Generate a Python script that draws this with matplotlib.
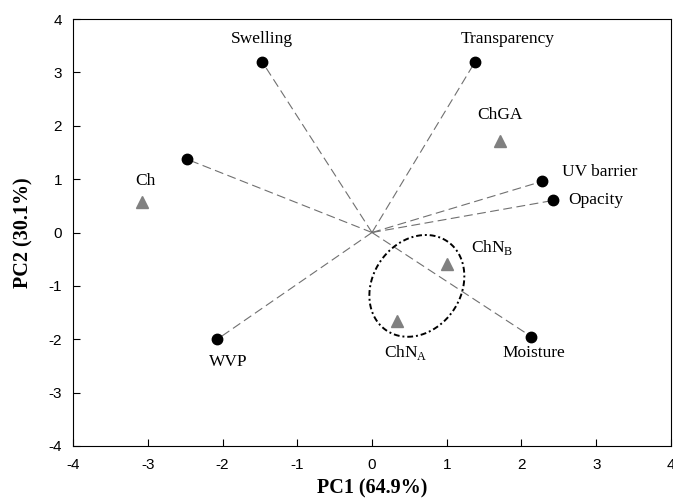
import numpy as np
import matplotlib
matplotlib.use("Agg")
import matplotlib.pyplot as plt

plt.rcParams["mathtext.fontset"] = "custom"
plt.rcParams["mathtext.rm"] = "Liberation Serif"
plt.rcParams["axes.unicode_minus"] = False

# loadings (black circles, dashed lines from origin)
load_names = ["Swelling", "Transparency", "", "UV barrier", "Opacity", "Moisture", "WVP"]
load_x = [-1.47, 1.38, -2.47, 2.28, 2.42, 2.13, -2.07]
load_y = [3.20, 3.20, 1.37, 0.96, 0.60, -1.95, -2.00]

# scores (grey triangles)
score_names = ["Ch", "ChGA", r"ChN$_{\mathrm{B}}$", r"ChN$_{\mathrm{A}}$"]
score_x = [-3.08, 1.71, 1.00, 0.34]
score_y = [0.57, 1.72, -0.59, -1.65]

# label offsets in pixels
load_off = [(0, 23), (33, 23), (0, 0), (20, 9), (15, 0), (3, -16), (11, -23)]
load_ha = ["center", "center", "center", "left", "left", "center", "center"]
score_off = [(4, 21), (0, 26), (24, 17), (8, -32)]
score_ha = ["center", "center", "left", "center"]

fig = plt.figure(figsize=(6.73, 5.01), dpi=100)
ax = fig.add_axes([0.1085, 0.1098, 0.8885, 0.8522])

for x, y in zip(load_x, load_y):
    ax.plot([0, x], [0, y], color="#707070", lw=0.8, ls=(0, (8, 4)), zorder=1)
ax.plot(load_x, load_y, "o", color="black", ms=7.5, zorder=3)
ax.plot(score_x, score_y, "^", color="#808080", ms=8, zorder=3)

for n, x, y, off, ha in zip(load_names, load_x, load_y, load_off, load_ha):
    ax.annotate(n, (x, y), xytext=off, textcoords="offset pixels", ha=ha, va="center",
                fontsize=12.5, family="Liberation Serif")
for n, x, y, off, ha in zip(score_names, score_x, score_y, score_off, score_ha):
    ax.annotate(n, (x, y), xytext=off, textcoords="offset pixels", ha=ha, va="center",
                fontsize=12.5, family="Liberation Serif")

# grouping ellipse around ChN_A / ChN_B (built in pixel units, then scaled)
sx, sy = 74.8, 53.4
cx, cy = 0.6, -1.0
a, b, phi = 54, 44, np.deg2rad(55)
t = np.linspace(0, 2 * np.pi, 200)
ex = cx + (a * np.cos(t) * np.cos(phi) - b * np.sin(t) * np.sin(phi)) / sx
ey = cy + (a * np.cos(t) * np.sin(phi) + b * np.sin(t) * np.cos(phi)) / sy
ax.plot(ex, ey, color="black", lw=1.4, ls=(0, (3, 1.5, 1, 1.5)), zorder=2)

ax.set_xlim(-4, 4)
ax.set_ylim(-4, 4)
ax.set_xticks(range(-4, 5))
ax.set_yticks(range(-4, 5))
ax.tick_params(direction="in", length=5, labelsize=11, pad=9)
for lab in ax.get_xticklabels() + ax.get_yticklabels():
    lab.set_family("Liberation Sans")
ax.tick_params(axis="y", pad=8)

ax.set_xlabel("PC1 (64.9%)", fontsize=14.5, fontweight="bold", family="Liberation Serif", labelpad=4)
ax.set_ylabel("PC2 (30.1%)", fontsize=14.5, fontweight="bold", family="Liberation Serif", labelpad=11)

fig.savefig("out.png", dpi=100)
